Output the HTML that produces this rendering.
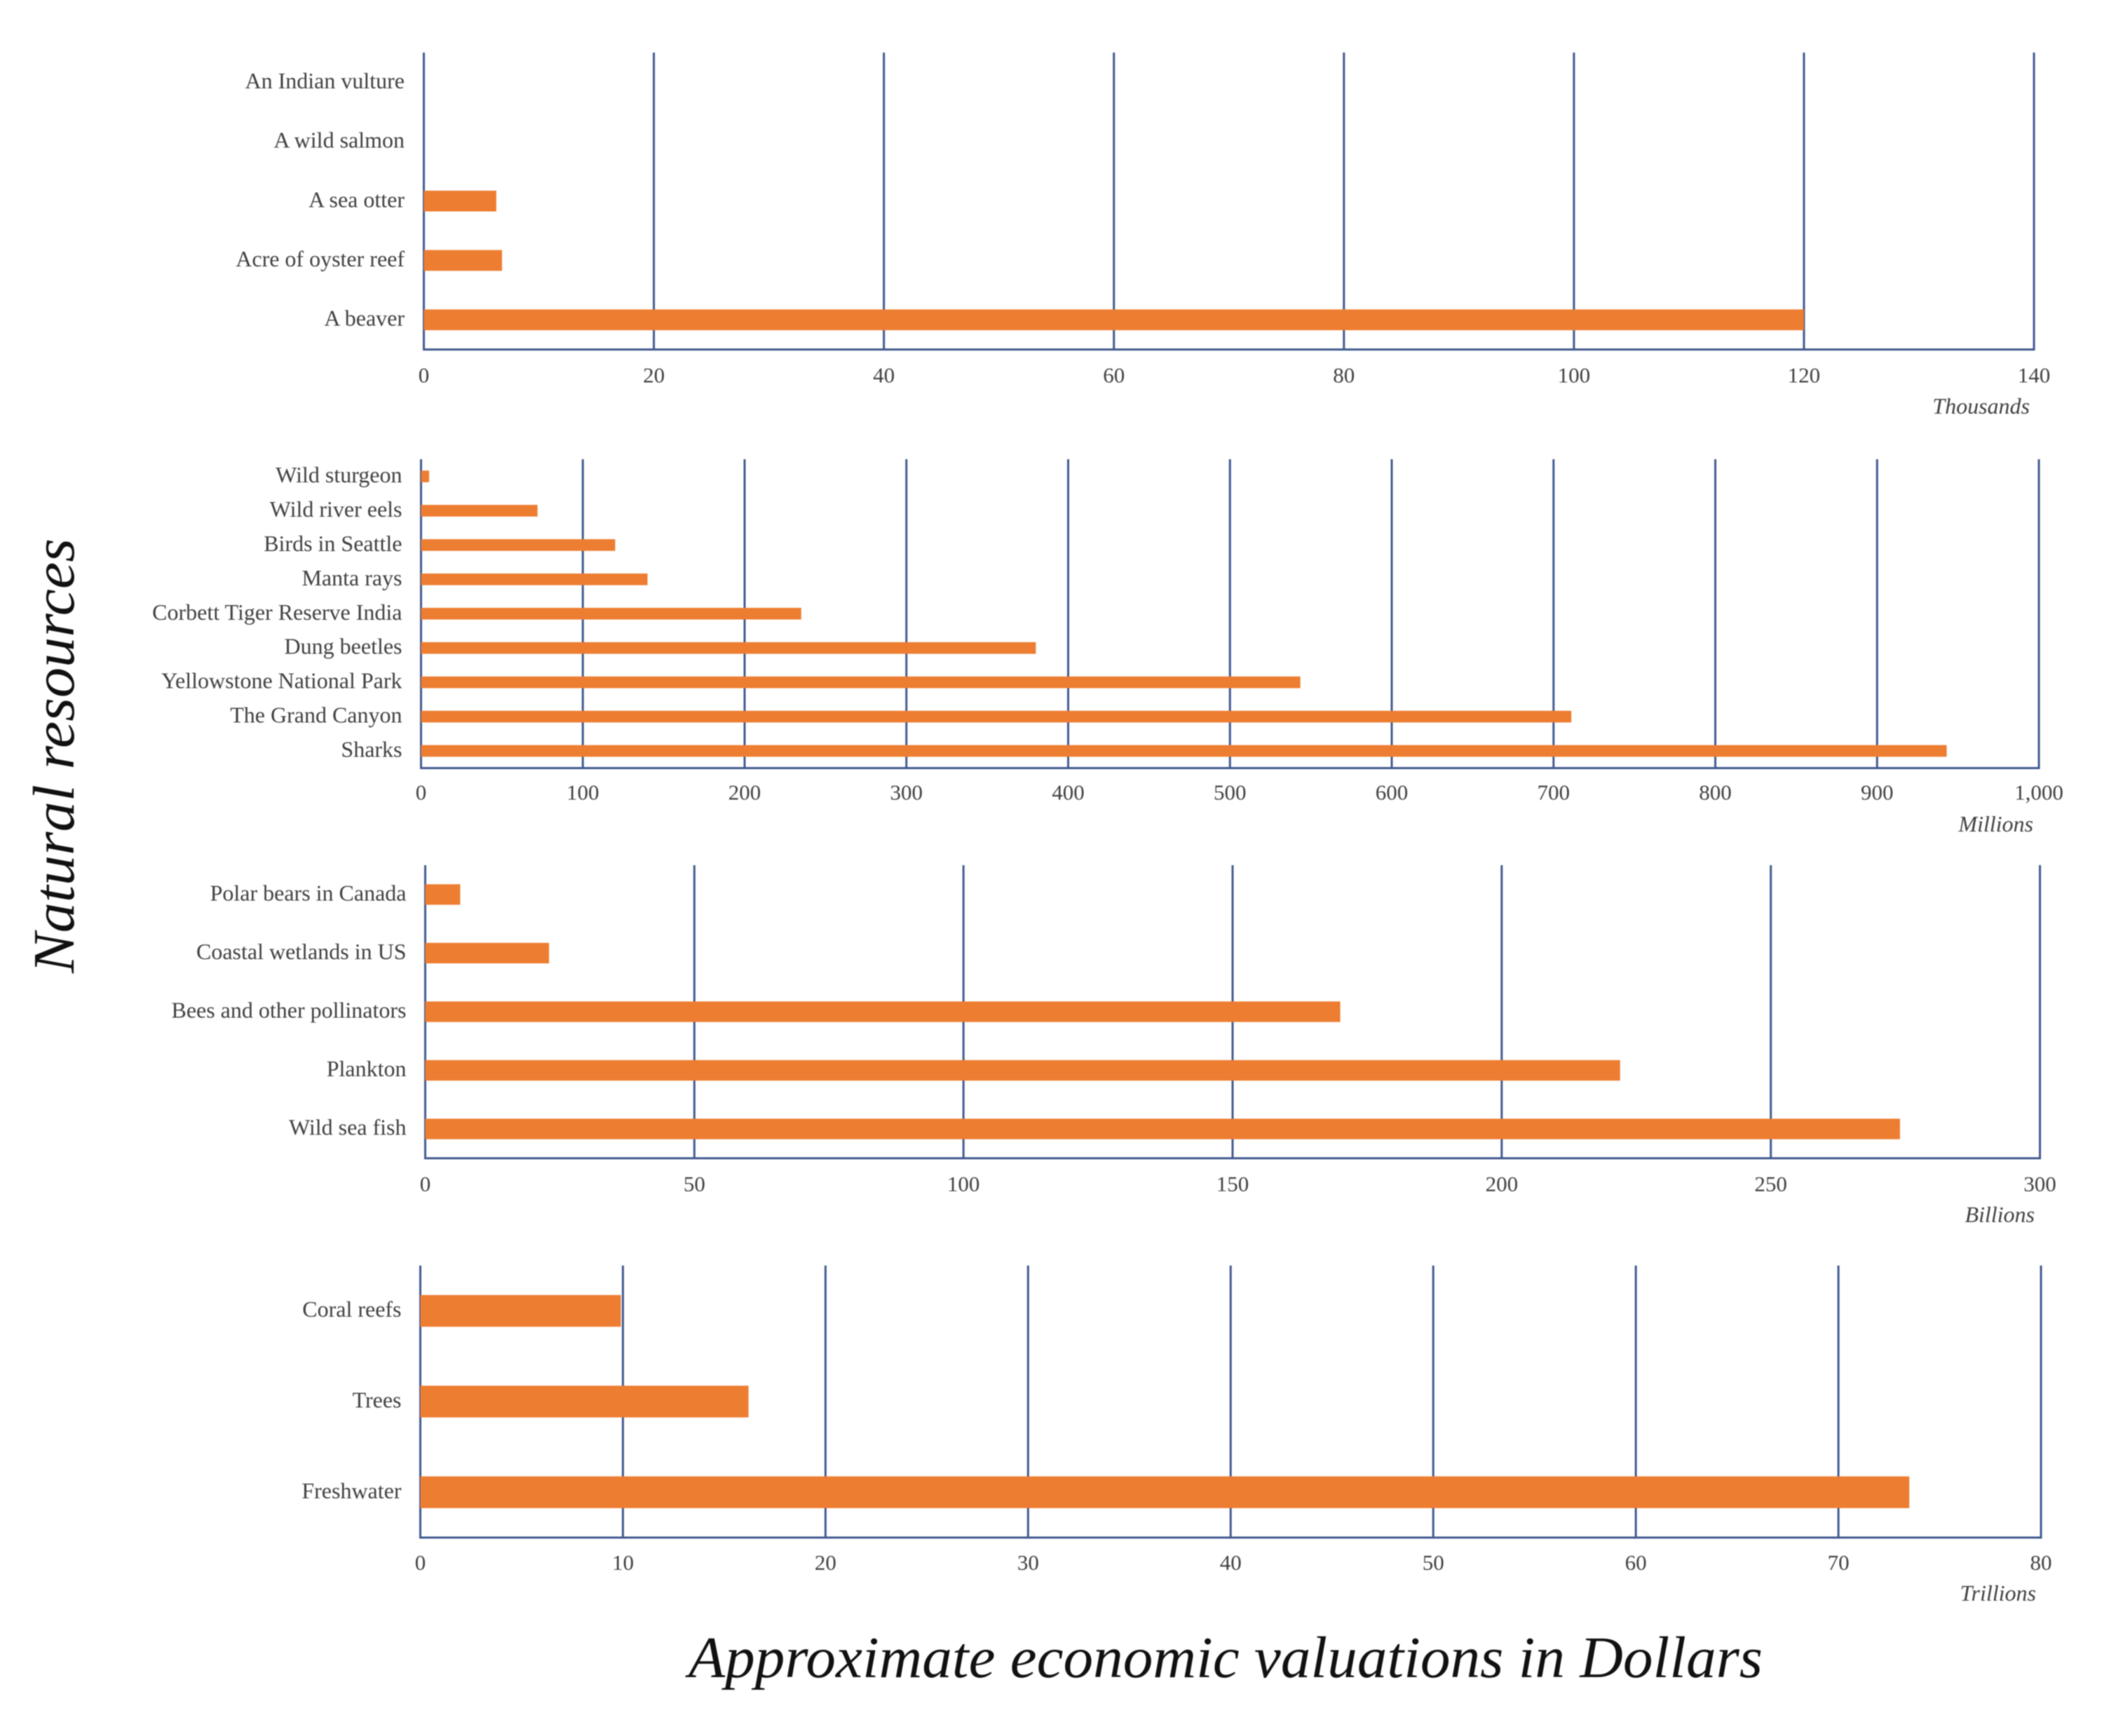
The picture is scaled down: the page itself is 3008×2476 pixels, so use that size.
<!DOCTYPE html>
<html lang="en">
<head>
<meta charset="utf-8">
<title>Approximate economic valuations of natural resources</title>
<style>
html,body{margin:0;padding:0;background:#fff;}
body{width:3008px;height:2476px;overflow:hidden;}
svg{display:block;filter:blur(0.7px);}
text{font-family:"Liberation Serif",serif;}
</style>
</head>
<body>
<svg id="chart" xmlns="http://www.w3.org/2000/svg" width="3008" height="2476" viewBox="0 0 3008 2476">
<rect x="0" y="0" width="3008" height="2476" fill="#ffffff"/>
<text transform="translate(105,1388) rotate(-90)" font-size="84" font-style="italic" fill="#111111" textLength="620" lengthAdjust="spacingAndGlyphs">Natural resources</text>
<text x="982" y="2392" font-size="84" font-style="italic" fill="#111111" textLength="1532" lengthAdjust="spacingAndGlyphs">Approximate economic valuations in Dollars</text>
</svg>
<script>
const thousandsCategories = ['An Indian vulture','A wild salmon','A sea otter','Acre of oyster reef','A beaver'];
const thousandsValues = [0,0,6.3,6.8,120];
const thousandsTicks = [0,20,40,60,80,100,120,140];
const thousandsTickLabels = ['0','20','40','60','80','100','120','140'];

const millionsCategories = ['Wild sturgeon','Wild river eels','Birds in Seattle','Manta rays','Corbett Tiger Reserve India','Dung beetles','Yellowstone National Park','The Grand Canyon','Sharks'];
const millionsValues = [5,72,120,140,235,380,543.5,711,943];
const millionsTicks = [0,100,200,300,400,500,600,700,800,900,1000];
const millionsTickLabels = ['0','100','200','300','400','500','600','700','800','900','1,000'];

const billionsCategories = ['Polar bears in Canada','Coastal wetlands in US','Bees and other pollinators','Plankton','Wild sea fish'];
const billionsValues = [6.5,23,170,222,274];
const billionsTicks = [0,50,100,150,200,250,300];
const billionsTickLabels = ['0','50','100','150','200','250','300'];

const trillionsCategories = ['Coral reefs','Trees','Freshwater'];
const trillionsValues = [9.9,16.2,73.5];
const trillionsTicks = [0,10,20,30,40,50,60,70,80];
const trillionsTickLabels = ['0','10','20','30','40','50','60','70','80'];

const SVG_NS = 'http://www.w3.org/2000/svg';
const GRID_COLOR = '#41598f';
const BAR_COLOR = '#ed7d31';
const TEXT_COLOR = '#404040';
const chart = document.getElementById('chart');

function make(parent, tag, attrs, text) {
  const el = document.createElementNS(SVG_NS, tag);
  for (const k in attrs) el.setAttribute(k, attrs[k]);
  if (text !== undefined) el.textContent = text;
  parent.appendChild(el);
  return el;
}
function slug(s) {
  return s.toLowerCase().replace(/[^a-z0-9]+/g, '-');
}

function drawPanel(p) {
  const group = make(chart, 'g', {});
  
  

  const maxTick = p.ticks[p.ticks.length - 1];
  const xScale = v => p.left + (v / maxTick) * (p.right - p.left);
  const band = (p.bottom - p.top) / p.categories.length;
  const yCenter = i => p.top + band * (i + 0.5);

  p.ticks.forEach((t, i) => {
    const grid = make(group, 'line', {x1: xScale(t), x2: xScale(t), y1: p.top, y2: p.bottom, stroke: GRID_COLOR, 'stroke-width': 3});
    
    

    const tick = make(group, 'text', {x: xScale(t), y: p.bottom + p.tickOffset, 'font-size': 31, fill: TEXT_COLOR, 'text-anchor': 'middle'}, p.tickLabels[i]);
    
    
  });

  const axis = make(group, 'line', {x1: p.left - 1.5, x2: p.right + 1.5, y1: p.bottom, y2: p.bottom, stroke: GRID_COLOR, 'stroke-width': 3});
  
  

  p.categories.forEach((c, i) => {
    const barHeight = band * p.barRatio;
    const label = make(group, 'text', {x: p.left - p.labelGap, y: yCenter(i) + 8.5, 'font-size': 32, fill: TEXT_COLOR, 'text-anchor': 'end'}, c);
    
    

    if (p.values[i] > 0) {
      const bar = make(group, 'rect', {x: xScale(0), y: yCenter(i) - barHeight / 2, width: xScale(p.values[i]) - xScale(0), height: barHeight, fill: BAR_COLOR});
      
      
    }
  });

  const unit = make(group, 'text', {x: p.unitX, y: p.unitY, 'font-size': 32, 'font-style': 'italic', fill: TEXT_COLOR, 'text-anchor': 'end'}, p.unit);
  
  
}

drawPanel({name: 'thousands', categories: thousandsCategories, values: thousandsValues, ticks: thousandsTicks, tickLabels: thousandsTickLabels, unit: 'Thousands',
  left: 604.5, right: 2901, top: 75, bottom: 498.5, barRatio: 0.35, labelGap: 27.5, tickOffset: 47, unitX: 2895, unitY: 590});
drawPanel({name: 'millions', categories: millionsCategories, values: millionsValues, ticks: millionsTicks, tickLabels: millionsTickLabels, unit: 'Millions',
  left: 600.5, right: 2908, top: 655, bottom: 1095.5, barRatio: 0.34, labelGap: 27, tickOffset: 45, unitX: 2900, unitY: 1186});
drawPanel({name: 'billions', categories: billionsCategories, values: billionsValues, ticks: billionsTicks, tickLabels: billionsTickLabels, unit: 'Billions',
  left: 606.5, right: 2909.5, top: 1234, bottom: 1652, barRatio: 0.35, labelGap: 27, tickOffset: 47, unitX: 2902, unitY: 1743});
drawPanel({name: 'trillions', categories: trillionsCategories, values: trillionsValues, ticks: trillionsTicks, tickLabels: trillionsTickLabels, unit: 'Trillions',
  left: 599.5, right: 2911, top: 1805, bottom: 2193, barRatio: 0.35, labelGap: 27, tickOffset: 46, unitX: 2904, unitY: 2283});
</script>
</body>
</html>
